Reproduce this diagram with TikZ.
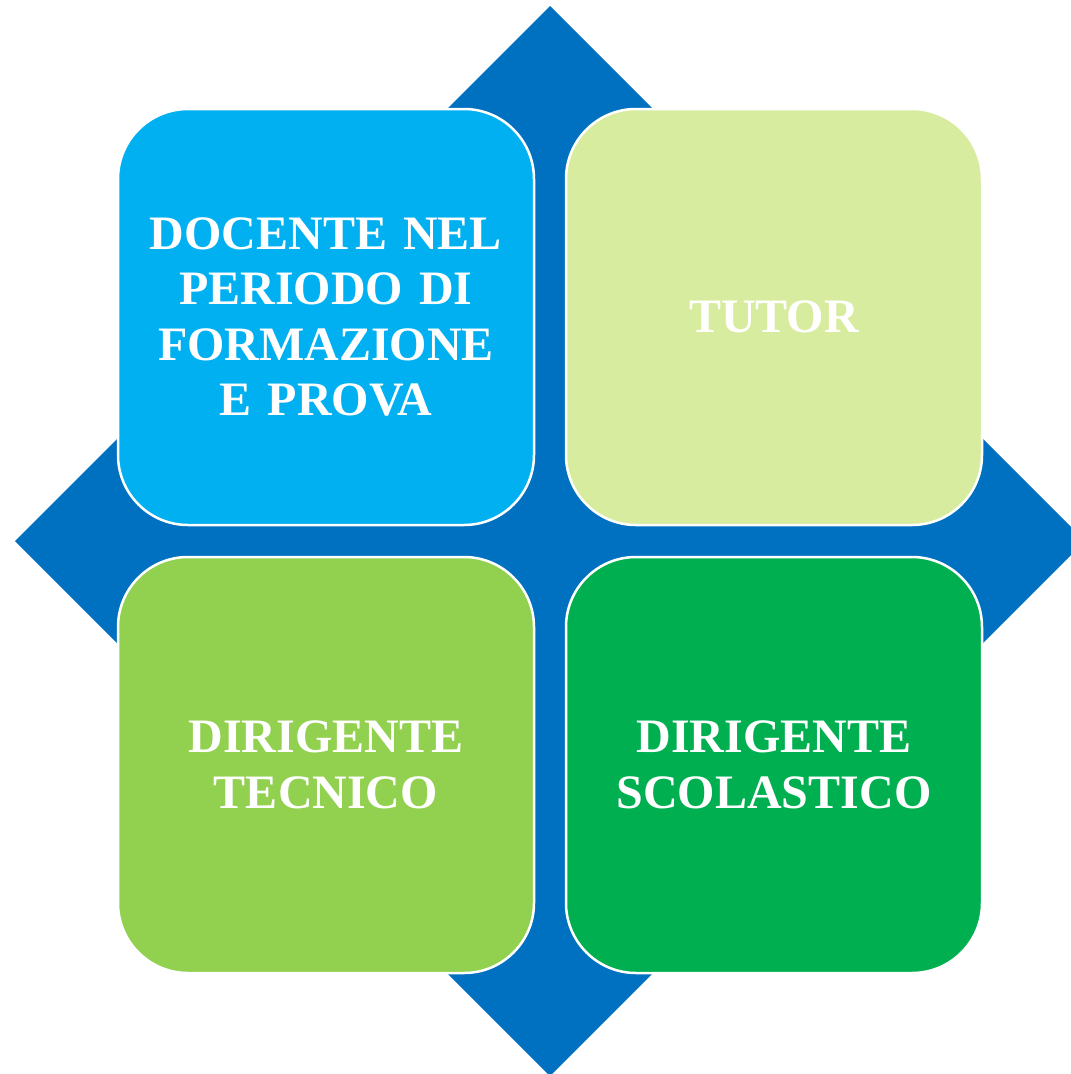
\documentclass[tikz,border=0pt]{standalone}
\usepackage{fontspec}
\setmainfont{Liberation Serif}
\usetikzlibrary{shapes.geometric}
\definecolor{diamondblue}{RGB}{0,112,192}
\definecolor{cboxa}{RGB}{0,176,240}
\definecolor{cboxb}{RGB}{216,236,160}
\definecolor{cboxc}{RGB}{146,208,80}
\definecolor{cboxd}{RGB}{0,176,80}
\tikzset{
  quad/.style={draw=white, line width=2.5pt, rounded corners=70pt,
    minimum width=416pt, minimum height=416pt, inner sep=0pt,
    text=white, align=center, text width=400pt,
    font=\fontsize{48}{55.5}\selectfont\bfseries},
}
\begin{document}
\begin{tikzpicture}[x=1pt,y=-1pt]
\useasboundingbox (0,0) rectangle (1071,1074);
\clip (0,0) rectangle (1071,1074);
\fill[diamondblue] (550,6) -- (1085,541) -- (550,1076) -- (15,541) -- cycle;
\node[quad, fill=cboxa] (docente) at (326,317) {DOCENTE NEL\\PERIODO DI\\FORMAZIONE\\E PROVA};
\node[quad, fill=cboxb] (tutor) at (774,317) {TUTOR};
\node[quad, fill=cboxc] (tecnico) at (326,765) {DIRIGENTE\\TECNICO};
\node[quad, fill=cboxd] (scolastico) at (774,765) {DIRIGENTE\\SCOLASTICO};
\end{tikzpicture}
\end{document}
